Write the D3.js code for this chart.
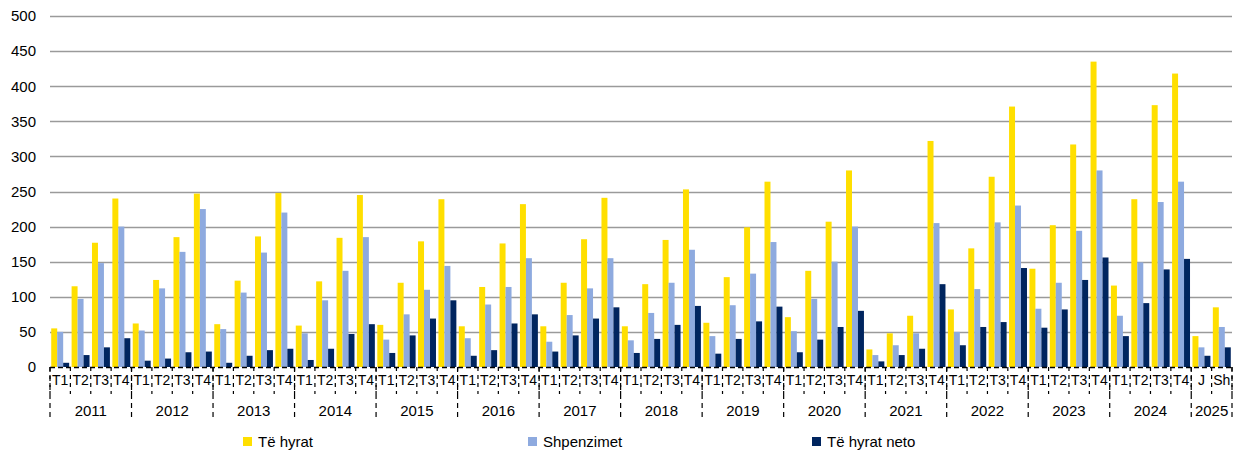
<!DOCTYPE html>
<html><head><meta charset="utf-8">
<script src="https://cdn.jsdelivr.net/npm/d3@7"></script>
<style>body{margin:0;background:#fff}svg{display:block}text{font-family:"Liberation Sans",Arial,sans-serif;fill:#000}</style>
</head><body><svg id="c" width="1243" height="455"></svg>
<script>
const years = ["2011","2012","2013","2014","2015","2016","2017","2018","2019","2020","2021","2022","2023","2024","2025"];
const subLabels = [
  ["T1","T2","T3","T4"],["T1","T2","T3","T4"],["T1","T2","T3","T4"],["T1","T2","T3","T4"],
  ["T1","T2","T3","T4"],["T1","T2","T3","T4"],["T1","T2","T3","T4"],["T1","T2","T3","T4"],
  ["T1","T2","T3","T4"],["T1","T2","T3","T4"],["T1","T2","T3","T4"],["T1","T2","T3","T4"],
  ["T1","T2","T3","T4"],["T1","T2","T3","T4"],["J","Sh"]
];
const seriesNames = ["Të hyrat","Shpenzimet","Të hyrat neto"];
const teHyrat = [55,115,177,240, 62,124,185,247, 61,123,186,248, 59,122,184,245, 60,120,179,239,
  58,114,176,232, 58,120,182,241, 58,118,181,253, 63,128,199,264, 71,137,207,280,
  25,48,73,322, 82,169,271,371, 140,202,317,435, 116,239,373,418, 44,85];
const shpenzimet = [50,97,148,200, 52,112,164,225, 54,106,163,220, 48,95,137,185, 39,75,110,144,
  41,89,114,155, 36,74,112,155, 38,77,120,167, 44,88,133,178, 51,97,150,200,
  17,31,48,205, 50,111,206,230, 83,120,194,280, 73,149,235,264, 28,57];
const teHyratNeto = [6,17,28,41, 9,12,21,22, 6,16,24,26, 10,26,47,61, 20,45,69,95,
  16,24,62,75, 22,45,69,85, 20,40,60,87, 19,40,65,86, 21,39,57,80,
  8,17,26,118, 31,57,64,141, 56,82,124,156, 44,91,139,154, 16,28];
const yTicks = [0,50,100,150,200,250,300,350,400,450,500];
const colors = ["#FFDF00","#8EAADF","#00255F"];

const cats = [];
years.forEach((y,i)=>subLabels[i].forEach(s=>cats.push({year:y,label:s,key:y+"-"+s})));
const series = [teHyrat, shpenzimet, teHyratNeto];

const svg = d3.select("#c");
const x0 = 50, x1 = 1232, yTop = 16, yBot = 367;
const x = d3.scaleBand().domain(cats.map(c=>c.key)).range([x0,x1]).padding(0);
const bw = x.bandwidth();
const xs = d3.scaleBand().domain(d3.range(3)).range([bw*0.06, bw*0.94]).padding(0);
const y = d3.scaleLinear().domain([0,500]).range([yBot,yTop]);

// gridlines
svg.append("g").selectAll("line").data(yTicks.filter(t=>t>0)).join("line")
  .attr("x1",x0).attr("x2",x1).attr("y1",d=>Math.round(y(d))+0.5).attr("y2",d=>Math.round(y(d))+0.5)
  .attr("stroke","#9a9a9a").attr("stroke-width",1.3);

// y axis labels
const yAxis = d3.axisLeft(y).tickValues(yTicks).tickSize(0).tickPadding(0);
const gy = svg.append("g").attr("transform",`translate(${x0-14},0)`).call(yAxis);
gy.select(".domain").remove();
gy.selectAll("text").attr("font-size",15).attr("font-family",'"Liberation Sans",Arial,sans-serif').attr("fill","#000");

// bars
series.forEach((vals,si)=>{
  svg.append("g").selectAll("rect").data(cats).join("rect")
    .attr("x",(d)=>x(d.key)+xs(si))
    .attr("width",xs.bandwidth())
    .attr("y",(d,i)=>y(vals[i]))
    .attr("height",(d,i)=>yBot-y(vals[i]))
    .attr("fill",colors[si]);
});

// x axis baseline
svg.append("line").attr("x1",x0).attr("x2",x1).attr("y1",yBot+0.5).attr("y2",yBot+0.5)
  .attr("stroke","#000").attr("stroke-width",1.5).attr("stroke-dasharray","5,3");

// quarter ticks
const bounds = d3.range(cats.length+1).map(i=>x0+i*bw);
svg.append("g").selectAll("line").data(bounds).join("line")
  .attr("x1",d=>d).attr("x2",d=>d).attr("y1",yBot).attr("y2",yBot+27)
  .attr("stroke","#000").attr("stroke-width",1.2).attr("stroke-dasharray","4,4");

// year boundary lines
let idx=0; const yb=[x0];
subLabels.forEach(s=>{idx+=s.length; yb.push(x0+idx*bw);});
svg.append("g").selectAll("line").data(yb).join("line")
  .attr("x1",d=>d).attr("x2",d=>d).attr("y1",yBot).attr("y2",yBot+52)
  .attr("stroke","#000").attr("stroke-width",1.2).attr("stroke-dasharray","5,4");

// quarter labels
const xAxis = d3.axisBottom(x).tickFormat(k=>cats.find(c=>c.key===k).label).tickSize(0).tickPadding(0);
const gx = svg.append("g").attr("transform",`translate(0,${yBot+8})`).call(xAxis);
gx.select(".domain").remove();
gx.selectAll("text").attr("font-size",14).attr("font-family",'"Liberation Sans",Arial,sans-serif').attr("fill","#000");

// year labels
let start=0;
const yearPos = years.map((yr,i)=>{const n=subLabels[i].length; const c=x0+(start+n/2)*bw; start+=n; return {yr,c};});
svg.append("g").selectAll("text").data(yearPos).join("text")
  .attr("x",d=>d.c).attr("y",yBot+49).attr("text-anchor","middle").attr("font-size",15).text(d=>d.yr);

// legend
const legX = [243,528,812];
const lg = svg.append("g").selectAll("g").data(seriesNames).join("g")
  .attr("transform",(d,i)=>`translate(${legX[i]},437)`);
lg.append("rect").attr("width",9).attr("height",9).attr("fill",(d,i)=>colors[i]);
lg.append("text").attr("x",15).attr("y",10).attr("font-size",15).text(d=>d);
</script></body></html>
